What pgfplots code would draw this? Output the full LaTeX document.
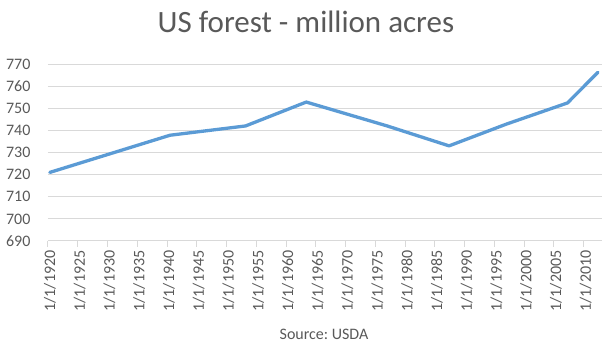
\documentclass[border=0pt]{standalone}
\usepackage{pgfplots}
\pgfplotsset{compat=1.18}
\usepackage{fontspec}
\setmainfont{Carlito}
\frenchspacing
\definecolor{linebl}{HTML}{5B9BD5}
\definecolor{gridc}{HTML}{D9D9D9}
\definecolor{txt}{HTML}{595959}
\begin{document}
\begin{tikzpicture}[x=1pt,y=1pt]
\path[use as bounding box] (0,0) rectangle (613,363);
\begin{axis}[
  at={(48pt,122pt)}, anchor=south west,
  scale only axis, width=554pt, height=177pt,
  xmin=1920, xmax=2013.1,
  ymin=690, ymax=770,
  ytick={690,700,...,770},
  xtick={1920,1925,...,2010},
  xticklabels={1/1/1920,1/1/1925,1/1/1930,1/1/1935,1/1/1940,1/1/1945,1/1/1950,1/1/1955,1/1/1960,1/1/1965,1/1/1970,1/1/1975,1/1/1980,1/1/1985,1/1/1990,1/1/1995,1/1/2000,1/1/2005,1/1/2010},
  axis lines*=left,
  y axis line style={draw=none},
  x axis line style={gridc, line width=1pt},
  ymajorgrids, grid style={gridc, line width=1pt},
  ytick style={draw=none},
  xtick style={gridc, line width=1pt},
  tick align=outside, major tick length=6pt,
  /pgf/number format/assume math mode=true,
  /pgf/number format/1000 sep={},
  yticklabel style={font=\fontsize{16}{16}\selectfont, text=txt, anchor=east, xshift=-8pt},
  xticklabel style={font=\fontsize{16}{16}\selectfont, text=txt, rotate=90, anchor=east, yshift=-2pt},
  clip=false,
]
\addplot[linebl, line width=3.3pt, line join=round, line cap=round] coordinates {
  (1920.3,721) (1940.5,737.8) (1953.2,742) (1963.4,752.8) (1977,742) (1987.4,733) (1997,742.8) (2007.3,752.4) (2012.4,766.2)
};
\end{axis}
\node[font=\fontsize{31}{31}\selectfont, text=txt, anchor=base] at (306,330) {US forest - million acres};
\node[font=\fontsize{16}{16}\selectfont, text=txt] at (324,29) {Source: USDA};
\end{tikzpicture}
\end{document}
